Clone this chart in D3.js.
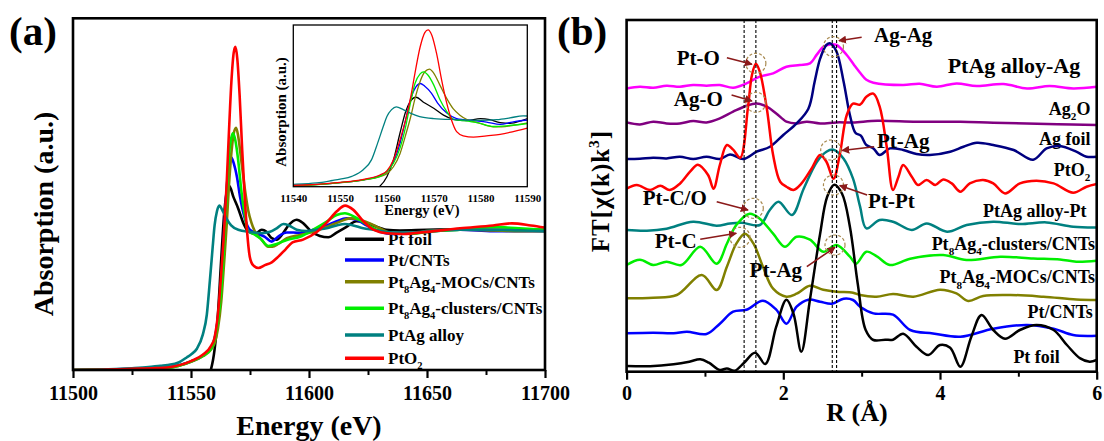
<!DOCTYPE html>
<html>
<head>
<meta charset="utf-8">
<script src="https://cdn.jsdelivr.net/npm/d3@7"></script>
<style>
  body { margin: 0; background: #fff; }
  svg { display: block; }
</style>
</head>
<body>
<svg id="chart" width="1104" height="441"></svg>
<script>
// ---- panel (a): Pt L3-edge XANES, [energy eV, normalized absorption]
const ptFoilA = [[11557,-0.05],[11558.4,0],[11560,0.145],[11561.4,0.39],[11562.8,0.78],[11564,1.09],[11565,1.24],[11566.2,1.3],[11568,1.22],[11570,1.14],[11572.1,1.04],[11574.2,0.98],[11577,0.96],[11580,0.99],[11582,0.975],[11584.2,0.93],[11586.3,0.92],[11589,0.965],[11591.3,1.02],[11594.8,1.06],[11597.6,1.035],[11601.1,0.976],[11604.6,0.946],[11608.2,0.937],[11611.7,0.97],[11615.9,1.01],[11620.1,1.05],[11623,1.045],[11627.2,1.02],[11632.8,0.99],[11638.5,0.985],[11650,0.99],[11664,0.993],[11678,0.99],[11700,0.99]];
const ptCntsA = [[11500,0],[11515,0.003],[11525,0.008],[11535,0.015],[11540,0.02],[11550,0.06],[11555,0.1],[11558.5,0.16],[11560,0.22],[11561.4,0.36],[11562.8,0.63],[11564,0.97],[11565.1,1.28],[11566.2,1.45],[11567.1,1.5],[11568.1,1.46],[11569.5,1.36],[11570.8,1.22],[11572.8,1.07],[11574.9,0.99],[11578.5,0.96],[11581.3,0.94],[11584.2,0.906],[11586.8,0.94],[11590.6,0.97],[11593.4,0.97],[11597.6,0.965],[11601.8,0.99],[11607.5,1.02],[11611.7,1.05],[11615.9,1.07],[11620.1,1.06],[11624.4,1.02],[11630,0.976],[11635.6,0.96],[11644,0.965],[11650,0.975],[11664,0.99],[11678,0.98],[11689,0.98],[11700,0.98]];
const mocsA = [[11500,0],[11515,0.003],[11525,0.007],[11535,0.012],[11540,0.015],[11550,0.058],[11555,0.097],[11558.5,0.145],[11560,0.19],[11561.4,0.29],[11562.8,0.48],[11564,0.75],[11565.1,1.02],[11566,1.28],[11567.1,1.53],[11568.1,1.67],[11569.1,1.71],[11570,1.65],[11571.3,1.48],[11572.8,1.28],[11574.2,1.13],[11575.6,1.04],[11577,0.98],[11579.9,0.92],[11582.7,0.87],[11584.5,0.87],[11587,0.89],[11590.6,0.93],[11596.2,0.953],[11601.8,0.976],[11607.5,1.01],[11613.1,1.047],[11617.3,1.07],[11621.5,1.06],[11625.8,1.035],[11630,1.0],[11635.6,0.965],[11644,0.965],[11650,0.98],[11664,0.99],[11678,0.985],[11689,0.98],[11700,0.98]];
const clustersA = [[11500,0],[11515,0.003],[11525,0.007],[11535,0.012],[11540,0.015],[11550,0.06],[11555,0.1],[11558.5,0.15],[11560,0.22],[11561.4,0.34],[11562.8,0.56],[11564,0.87],[11565.1,1.24],[11566,1.5],[11567.1,1.64],[11567.8,1.67],[11568.8,1.62],[11570,1.48],[11571.3,1.27],[11572.8,1.09],[11574.2,0.98],[11576.5,0.96],[11579.3,0.93],[11582.8,0.875],[11586.3,0.89],[11590.6,0.918],[11596.2,0.94],[11601.8,0.99],[11607.5,1.047],[11611.7,1.094],[11615.2,1.106],[11619.4,1.08],[11623.7,1.035],[11628.6,0.99],[11635.6,0.965],[11644,0.962],[11650,0.975],[11664,0.99],[11678,1.01],[11689,1.0],[11700,0.99]];
const alloyA = [[11500,0],[11515,0.005],[11525,0.012],[11532,0.02],[11537,0.03],[11540,0.035],[11545,0.055],[11548.3,0.09],[11550,0.11],[11552.5,0.15],[11555,0.25],[11556.7,0.39],[11558,0.63],[11559.2,0.87],[11560,1.02],[11561,1.12],[11562,1.16],[11563.5,1.12],[11565,1.07],[11567,1.02],[11570,0.99],[11575,0.975],[11580,0.965],[11583.5,0.975],[11586.3,1.0],[11589.1,1.03],[11591.5,1.02],[11594.8,0.99],[11599,0.98],[11603.2,0.99],[11607.5,1.0],[11611.7,1.02],[11615.2,1.03],[11618.7,1.02],[11623,1.0],[11627.2,0.99],[11635.6,0.97],[11644,0.97],[11650,0.98],[11664,0.99],[11678,0.99],[11689,0.985],[11700,0.98]];
const ptO2A = [[11500,0],[11515,0.003],[11525,0.008],[11535,0.013],[11540,0.018],[11550,0.063],[11555,0.107],[11558.5,0.17],[11560,0.23],[11561.4,0.39],[11562.8,0.68],[11564,0.97],[11565.1,1.31],[11566,1.65],[11567.1,2.03],[11568.1,2.24],[11568.8,2.28],[11569.6,2.2],[11570.6,1.94],[11571.7,1.55],[11572.8,1.21],[11573.8,0.97],[11574.9,0.8],[11576.3,0.74],[11578.5,0.72],[11581.3,0.74],[11584.2,0.76],[11587,0.8],[11590,0.85],[11593,0.9],[11597.5,0.92],[11603,0.97],[11607.5,1.04],[11611.8,1.12],[11615.3,1.16],[11618.8,1.13],[11623,1.05],[11627.3,0.99],[11633,0.965],[11640,0.96],[11650,0.975],[11664,1.0],[11678,1.02],[11686,1.035],[11694,1.02],[11700,1.005]];

const seriesA = [
  { name: "Pt foil", data: ptFoilA, color: "#000000" },
  { name: "Pt/CNTs", data: ptCntsA, color: "#0000ff" },
  { name: "Pt_8Ag_4-MOCs/CNTs", data: mocsA, color: "#808000" },
  { name: "Pt_8Ag_4-clusters/CNTs", data: clustersA, color: "#00ee00" },
  { name: "PtAg alloy", data: alloyA, color: "#008080" },
  { name: "PtO_2", data: ptO2A, color: "#ff0000" },
];
const ticksA = [11500, 11550, 11600, 11650, 11700];
const minorA = [11525, 11575, 11625, 11675];
const ticksInset = [11540, 11550, 11560, 11570, 11580, 11590];

// ---- panel (b): FT-EXAFS, [R in Å, stacked magnitude]
const ptFoilB = [[0,0.57],[0.3,0.55],[0.6,0.75],[0.8,1.0],[0.94,1.24],[1.05,0.9],[1.19,0.17],[1.28,0.32],[1.38,0.1],[1.5,0.9],[1.64,1.9],[1.77,0.77],[1.91,4.5],[2.04,7.2],[2.13,5.8],[2.23,2.0],[2.34,7.2],[2.47,13.8],[2.56,17.5],[2.65,18.7],[2.75,17.8],[2.85,14.5],[2.95,8.8],[3.05,4.2],[3.15,3.17],[3.3,3.2],[3.4,3.2],[3.53,3.8],[3.7,2.5],[3.85,1.67],[4.0,2.67],[4.13,2.4],[4.26,0.5],[4.4,3.5],[4.53,5.67],[4.68,4.17],[4.83,3.3],[5.02,4.17],[5.23,4.67],[5.45,4.17],[5.62,2.67],[5.79,1.33],[5.91,1.0],[6.0,1.17]];
const ptCntsB = [[0,3.84],[0.34,3.9],[0.6,3.85],[0.77,4.0],[1.02,3.77],[1.19,4.8],[1.36,6.0],[1.53,6.2],[1.74,7.1],[1.91,6.2],[2.04,4.8],[2.17,6.5],[2.32,7.2],[2.47,7.0],[2.62,6.8],[2.77,7.3],[2.89,7.17],[2.98,6.5],[3.15,5.83],[3.4,5.7],[3.62,4.17],[3.91,3.83],[4.26,3.5],[4.68,4.3],[5.11,4.67],[5.45,4.3],[5.7,3.67],[6.0,3.6]];
const mocsB = [[0,7.34],[0.34,7.4],[0.64,7.67],[0.96,9.67],[1.15,8.17],[1.28,10.5],[1.4,12.8],[1.51,13.8],[1.62,12.8],[1.74,10.5],[1.87,8.3],[2.04,7.5],[2.17,7.8],[2.34,8.6],[2.51,8.2],[2.68,8.0],[2.89,7.9],[2.98,7.67],[3.19,7.5],[3.4,7.77],[3.66,7.5],[4.0,8.2],[4.21,7.83],[4.36,7.07],[4.55,7.57],[4.9,7.67],[5.32,7.5],[5.74,7.23],[6.0,7.17]];
const clustersB = [[0,10.67],[0.17,11.2],[0.34,10.67],[0.51,11.0],[0.7,10.67],[0.94,12.5],[1.15,10.8],[1.28,12.8],[1.4,14.67],[1.57,15.8],[1.7,15.3],[1.87,13.8],[2.02,12.5],[2.17,13.5],[2.34,13.2],[2.51,12.0],[2.68,12.67],[2.85,11.5],[2.93,10.8],[3.06,12.0],[3.2,11.5],[3.36,10.67],[3.62,11.3],[4.04,11.67],[4.34,11.17],[4.77,11.5],[5.19,11.33],[5.53,11.23],[5.74,11.0],[6.0,11.1]];
const alloyPtB = [[0,14.17],[0.26,14.1],[0.51,14.3],[0.85,15.0],[1.15,14.6],[1.32,14.83],[1.47,14.9],[1.7,14.67],[1.83,16.2],[1.94,17.0],[2.11,15.67],[2.26,18.3],[2.43,21.0],[2.55,22.0],[2.64,22.2],[2.77,21.3],[2.89,19.3],[2.98,16.5],[3.06,14.33],[3.23,15.17],[3.4,15.0],[3.64,14.17],[3.83,14.83],[4.09,14.0],[4.34,14.67],[4.68,15.0],[5.02,14.77],[5.36,14.93],[5.7,14.5],[6.0,14.43]];
const ptO2B = [[0,18.3],[0.13,18.67],[0.3,18.17],[0.43,18.6],[0.55,18.17],[0.68,18.8],[0.81,20.0],[0.91,20.7],[1.04,19.67],[1.11,18.3],[1.19,20.67],[1.28,22.67],[1.36,22.2],[1.45,21.4],[1.55,26.5],[1.6,29.67],[1.65,30.8],[1.7,30.0],[1.79,26.3],[1.87,21.67],[1.96,19.0],[2.04,18.5],[2.13,18.17],[2.23,18.8],[2.36,20.3],[2.47,21.67],[2.55,21.0],[2.64,19.3],[2.72,21.67],[2.81,25.67],[2.89,26.8],[2.98,26.7],[3.06,27.5],[3.15,27.8],[3.23,26.5],[3.32,22.5],[3.4,18.17],[3.47,19.5],[3.53,20.67],[3.64,19.5],[3.72,18.67],[3.83,19.17],[3.94,18.67],[4.04,19.23],[4.15,18.83],[4.26,18.0],[4.38,18.83],[4.55,19.17],[4.68,18.83],[4.83,17.83],[5.02,18.83],[5.23,19.1],[5.45,18.83],[5.7,17.9],[5.87,18.5],[6.0,18.77]];
const agFoilB = [[0,21.27],[0.17,21.3],[0.34,21.4],[0.51,21.33],[0.68,21.5],[0.85,21.27],[1.02,21.5],[1.19,21.27],[1.32,21.73],[1.49,21.27],[1.66,22.0],[1.83,22.5],[2.0,23.67],[2.17,24.83],[2.32,26.3],[2.4,29.0],[2.47,31.3],[2.55,32.67],[2.6,32.83],[2.68,32.0],[2.77,29.0],[2.85,25.67],[2.92,23.9],[2.99,23.6],[3.06,22.67],[3.15,22.33],[3.23,21.67],[3.36,22.33],[3.53,22.17],[3.7,21.77],[3.87,21.67],[4.13,22.0],[4.3,22.5],[4.47,22.9],[4.68,22.67],[4.94,22.17],[5.19,21.2],[5.36,22.33],[5.53,22.57],[5.74,22.0],[5.87,21.5],[6.0,21.5]];
const ag2oB = [[0,24.93],[0.17,24.73],[0.34,25.0],[0.51,24.83],[0.68,24.83],[0.85,25.07],[1.02,24.93],[1.19,25.33],[1.36,26.0],[1.53,26.6],[1.66,26.83],[1.79,26.5],[1.91,25.83],[2.04,25.0],[2.17,24.83],[2.3,25.0],[2.47,24.83],[2.68,24.93],[2.89,24.93],[3.2,25.1],[3.7,25.0],[4.26,25.0],[4.68,24.9],[5.5,24.75],[6.0,24.67]];
const alloyAgB = [[0,28.33],[0.17,28.5],[0.34,28.4],[0.51,28.6],[0.68,28.5],[0.85,28.67],[1.02,28.6],[1.19,28.67],[1.36,28.4],[1.53,28.83],[1.7,29.5],[1.87,29.83],[2.04,30.5],[2.21,30.67],[2.34,30.83],[2.43,31.73],[2.51,32.5],[2.6,32.73],[2.68,32.67],[2.81,31.67],[2.91,30.6],[2.98,29.9],[3.06,29.2],[3.15,28.9],[3.53,28.67],[3.74,28.8],[3.96,28.5],[4.21,28.83],[4.47,28.57],[4.81,28.77],[5.11,28.33],[5.4,28.57],[5.7,28.33],[6.0,28.5]];

const seriesB = [
  { data: alloyAgB, color: "#ff00ff" },
  { data: ag2oB, color: "#800080" },
  { data: alloyPtB, color: "#008080" },
  { data: clustersB, color: "#00ee00" },
  { data: mocsB, color: "#808000" },
  { data: ptCntsB, color: "#0000ff" },
  { data: agFoilB, color: "#000080" },
  { data: ptO2B, color: "#ff0000" },
  { data: ptFoilB, color: "#000000" },
];
// curve names at the right: [text, R, level, font size]
const namesB = [
  ["PtAg alloy-Ag", 5.79, 29.84, 22],
  ["Ag_2O", 5.92, 25.67, 18],
  ["Ag foil", 5.92, 22.67, 18],
  ["PtO_2", 5.92, 19.6, 18],
  ["PtAg alloy-Pt", 5.87, 15.5, 18],
  ["Pt_8Ag_4-clusters/CNTs", 5.98, 12.17, 18],
  ["Pt_8Ag_4-MOCs/CNTs", 5.98, 8.84, 18],
  ["Pt/CNTs", 5.95, 5.34, 18],
  ["Pt foil", 5.53, 0.84, 18],
];
const dottedR = [1.5, 1.65, 2.625, 2.68];
// bond annotations: label, label [R, level], circle [R, level], arrow tail, arrow head
const bondsB = [
  ["Pt-O",   [0.915, 30.67], [1.65, 30.84], [1.28, 31.4],  [1.6, 30.74]],
  ["Ag-O",   [0.915, 26.62], [1.65, 26.94], [1.34, 27.67], [1.6, 27.07]],
  ["Ag-Ag",  [3.53, 33.0],   [2.64, 32.5],  [3.0, 33.44],  [2.71, 33.1]],
  ["Pt-Ag",  [3.53, 22.34],  [2.605, 22.17],[3.16, 22.5],  [2.75, 22.12]],
  ["Pt-Pt",  [3.38, 16.34],  [2.64, 18.67], [3.07, 17.67], [2.72, 18.62]],
  ["Pt-C/O", [0.614, 16.67], [1.617, 16.34],[1.15, 17.0],  [1.55, 16.17]],
  ["Pt-C",   [0.628, 12.34], [1.447, 13.44],[0.94, 13.24], [1.4, 13.84]],
  ["Pt-Ag",  [1.905, 9.5],   [2.66, 12.67], [2.3, 10.5],   [2.66, 12.44]],
];
const ticksB = [0, 2, 4, 6];
const minorB = [1, 3, 5];

const FONT = "Liberation Serif";
const svg = d3.select("#chart");

// every text gets the serif face and bold weight
function label(parent) {
  return parent.append("text").attr("font-family", FONT).attr("font-weight", "bold").attr("fill", "#000");
}

// text with _x subscripts and ^x superscripts
function rich(sel, str, fs) {
  const parts = str.split(/([_^].)/).filter(Boolean);
  let shift = 0;
  parts.forEach((p) => {
    if (p[0] === "_" || p[0] === "^") {
      const d = p[0] === "_" ? fs * 0.3 : -fs * 0.42;
      sel.append("tspan").attr("font-size", fs * 0.62).attr("dy", d - shift).text(p[1]);
      shift = d;
    } else {
      sel.append("tspan").attr("dy", -shift).text(p);
      shift = 0;
    }
  });
  return sel;
}

// ================= panel (a) =================
const xA = d3.scaleLinear().domain([11500, 11700]).range([73, 545]);
const yA = d3.scaleLinear().domain([0, 2.482]).range([370, 18.3]);

svg.append("clipPath").attr("id", "clipA").append("rect")
  .attr("x", 73).attr("y", 18.3).attr("width", 472).attr("height", 351.7);

// legend first: curves run over its first row in the original
const legendRows = [239.3, 260, 281.7, 308.3, 335, 358.3];
const legA = svg.append("g");
seriesA.forEach((s, i) => {
  legA.append("line").attr("x1", 345).attr("x2", 384)
    .attr("y1", legendRows[i]).attr("y2", legendRows[i])
    .attr("stroke", s.color).attr("stroke-width", 3.5);
  rich(label(legA).attr("x", 388).attr("y", legendRows[i] + 6).attr("font-size", 17), s.name, 17);
});

const lineA = d3.line().x((d) => xA(d[0])).y((d) => yA(d[1])).curve(d3.curveMonotoneX);
svg.append("g").attr("clip-path", "url(#clipA)")
  .selectAll("path").data(seriesA).join("path")
  .attr("fill", "none").attr("stroke", (d) => d.color).attr("stroke-width", 2.6)
  .attr("stroke-linejoin", "round")
  .attr("d", (d) => lineA(d.data));

// inset
const xI = d3.scaleLinear().domain([11540, 11590]).range([293.3, 527.3]);
const yI = d3.scaleLinear().domain([0, 2.35]).range([186.7, 25]);
svg.append("clipPath").attr("id", "clipI").append("rect")
  .attr("x", 293.3).attr("y", 25).attr("width", 234).attr("height", 161.7);
svg.append("rect").attr("x", 293.3).attr("y", 25).attr("width", 234).attr("height", 161.7)
  .attr("fill", "#fff");
const lineI = d3.line().x((d) => xI(d[0])).y((d) => yI(d[1])).curve(d3.curveMonotoneX);
svg.append("g").attr("clip-path", "url(#clipI)")
  .selectAll("path").data(seriesA).join("path")
  .attr("fill", "none").attr("stroke", (d) => d.color).attr("stroke-width", 1.3)
  .attr("d", (d) => lineI(d.data));
svg.append("rect").attr("x", 293.3).attr("y", 25).attr("width", 234).attr("height", 161.7)
  .attr("fill", "none").attr("stroke", "#000").attr("stroke-width", 1.3);
const axI = svg.append("g").attr("transform", "translate(0,186.7)")
  .call(d3.axisBottom(xI).tickValues(ticksInset).tickSize(0).tickFormat(d3.format("d")));
axI.select(".domain").remove();
axI.attr("font-family", FONT).attr("font-weight", "bold");
axI.selectAll("text").attr("y", 15).attr("dy", null).attr("font-size", 11).attr("fill", "#000");
label(svg).attr("x", 422).attr("y", 215).attr("text-anchor", "middle")
  .attr("font-size", 14.5).text("Energy (eV)");
label(svg).attr("transform", "translate(286,112) rotate(-90)")
  .attr("text-anchor", "middle").attr("font-size", 15).text("Absorption (a.u.)");

// main axes
const axA = svg.append("g").attr("transform", "translate(0,370)")
  .call(d3.axisBottom(xA).tickValues(ticksA).tickSize(8).tickFormat(d3.format("d")));
axA.select(".domain").remove();
axA.attr("font-family", FONT).attr("font-weight", "bold");
axA.selectAll("line").attr("stroke", "#000").attr("stroke-width", 2.2);
axA.selectAll("text").attr("y", 30).attr("dy", null).attr("font-size", 20).attr("fill", "#000");
const axAm = svg.append("g").attr("transform", "translate(0,370)")
  .call(d3.axisBottom(xA).tickValues(minorA).tickSize(5).tickFormat(""));
axAm.select(".domain").remove();
axAm.selectAll("line").attr("stroke", "#000").attr("stroke-width", 2);
svg.append("rect").attr("x", 73).attr("y", 18.3).attr("width", 472).attr("height", 351.7)
  .attr("fill", "none").attr("stroke", "#000").attr("stroke-width", 2.6);

label(svg).attr("x", 309).attr("y", 435).attr("text-anchor", "middle")
  .attr("font-size", 28).text("Energy (eV)");
label(svg).attr("transform", "translate(53,214) rotate(-90)")
  .attr("text-anchor", "middle").attr("font-size", 28).text("Absorption (a.u.)");
label(svg).attr("x", 9).attr("y", 45).attr("font-size", 41).text("(a)");

// ================= panel (b) =================
const xB = d3.scaleLinear().domain([0, 6]).range([626.6, 1096.7]);
const yB = d3.scaleLinear().domain([0, 35.17]).range([371.7, 20]);

svg.append("clipPath").attr("id", "clipB").append("rect")
  .attr("x", 626.6).attr("y", 20).attr("width", 470.1).attr("height", 351.7);

const gB = svg.append("g");
// names under the curves
namesB.forEach(([t, r, v, fs]) => {
  rich(label(gB).attr("x", xB(r)).attr("y", yB(v)).attr("text-anchor", "end")
    .attr("font-size", fs), t, fs);
});

const lineB = d3.line().x((d) => xB(d[0])).y((d) => yB(d[1])).curve(d3.curveCatmullRom.alpha(0.5));
gB.append("g").attr("clip-path", "url(#clipB)")
  .selectAll("path").data(seriesB).join("path")
  .attr("fill", "none").attr("stroke", (d) => d.color).attr("stroke-width", 2.5)
  .attr("stroke-linejoin", "round")
  .attr("d", (d) => lineB(d.data));

gB.selectAll(".dot-line").data(dottedR).join("line")
  .attr("x1", (d) => xB(d)).attr("x2", (d) => xB(d))
  .attr("y1", yB(35.17)).attr("y2", yB(0))
  .attr("stroke", "#000").attr("stroke-width", 1.1).attr("stroke-dasharray", "3,2");

svg.append("defs").append("marker").attr("id", "arrow")
  .attr("viewBox", "0 0 10 10").attr("refX", 9).attr("refY", 5)
  .attr("markerWidth", 5).attr("markerHeight", 5).attr("orient", "auto")
  .append("path").attr("d", "M0,0 L10,5 L0,10 z").attr("fill", "#8b1a1a");

bondsB.forEach(([t, lab, c, a0, a1]) => {
  gB.append("circle").attr("cx", xB(c[0])).attr("cy", yB(c[1])).attr("r", 10)
    .attr("fill", "none").attr("stroke", "#a88a50").attr("stroke-width", 1.2)
    .attr("stroke-dasharray", "3,2");
  gB.append("line").attr("x1", xB(a0[0])).attr("y1", yB(a0[1]))
    .attr("x2", xB(a1[0])).attr("y2", yB(a1[1]))
    .attr("stroke", "#8b1a1a").attr("stroke-width", 1.6).attr("marker-end", "url(#arrow)");
  label(gB).attr("x", xB(lab[0])).attr("y", yB(lab[1])).attr("text-anchor", "middle")
    .attr("font-size", 21).text(t);
});

const axB = svg.append("g").attr("transform", "translate(0,371.7)")
  .call(d3.axisBottom(xB).tickValues(ticksB).tickSize(8).tickFormat(d3.format("d")));
axB.select(".domain").remove();
axB.attr("font-family", FONT).attr("font-weight", "bold");
axB.selectAll("line").attr("stroke", "#000").attr("stroke-width", 2.2);
axB.selectAll("text").attr("y", 28.5).attr("dy", null).attr("font-size", 20).attr("fill", "#000");
const axBm = svg.append("g").attr("transform", "translate(0,371.7)")
  .call(d3.axisBottom(xB).tickValues(minorB).tickSize(5).tickFormat(""));
axBm.select(".domain").remove();
axBm.selectAll("line").attr("stroke", "#000").attr("stroke-width", 2);
svg.append("rect").attr("x", 626.6).attr("y", 20).attr("width", 470.1).attr("height", 351.7)
  .attr("fill", "none").attr("stroke", "#000").attr("stroke-width", 2.6);

label(svg).attr("x", 857).attr("y", 421).attr("text-anchor", "middle")
  .attr("font-size", 26).text("R (Å)");
rich(label(svg).attr("transform", "translate(609,191) rotate(-90)")
  .attr("text-anchor", "middle").attr("font-size", 25).attr("letter-spacing", 1), "FT[χ(k)k^3]", 25);
label(svg).attr("x", 557).attr("y", 45).attr("font-size", 41).text("(b)");
</script>
</body>
</html>
